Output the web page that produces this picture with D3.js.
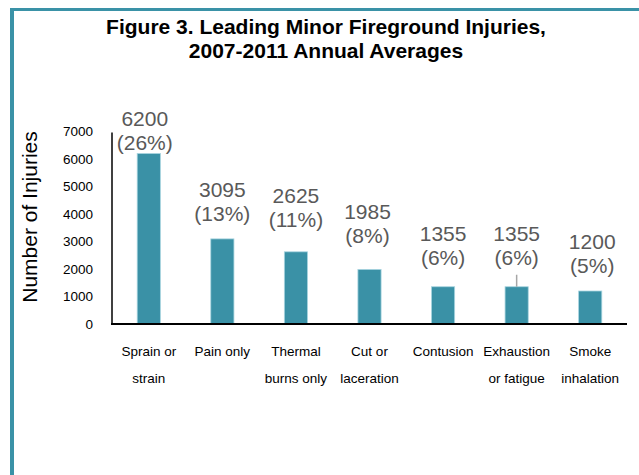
<!DOCTYPE html>
<meta charset="utf-8">
<script src="https://cdn.jsdelivr.net/npm/d3@7"></script>
<style>
body { margin: 0; background: #fff; }
text { font-family: "Liberation Sans", Arial, sans-serif; }
.title { font-weight: bold; font-size: 21px; fill: #000; }
.tick-label { font-size: 13.5px; fill: #000; }
.cat-label { font-size: 13.5px; fill: #000; }
.val-label { font-size: 21px; fill: #595959; }
</style>
<body>
<script>

// chart data
var categories = ["Sprain or|strain", "Pain only", "Thermal|burns only", "Cut or|laceration",
                  "Contusion", "Exhaustion|or fatigue", "Smoke|inhalation"];
var injuries = [6200, 3095, 2625, 1985, 1355, 1355, 1200];
var shares = ["26%", "13%", "11%", "8%", "6%", "6%", "5%"];
var yTicks = [0, 1000, 2000, 3000, 4000, 5000, 6000, 7000];

// hand placed label lifts above bar tops (px), as in the original
var labelLift = [3.5, 18, 25, 26, 22, 22, 18];
var labelShift = [-4, 0, 0, -2, 0, 0, 2];
var leaderBar = 5;

var width = 639,
    height = 475;

var svg = d3.select("body").append("svg")
    .attr("width", width)
    .attr("height", height);

// frame
svg.append("rect").attr("x", 10).attr("y", 8).attr("width", width - 10).attr("height", 3).attr("fill", "#3a92a7");
svg.append("rect").attr("x", 10).attr("y", 8).attr("width", 4).attr("height", height - 8).attr("fill", "#3a92a7");

// title
svg.append("text").attr("class", "title")
    .attr("x", 326).attr("y", 34).attr("text-anchor", "middle")
    .text("Figure 3. Leading Minor Fireground Injuries,");
svg.append("text").attr("class", "title")
    .attr("x", 326).attr("y", 58).attr("text-anchor", "middle")
    .text("2007-2011 Annual Averages");

var x = d3.scaleBand()
    .domain(d3.range(categories.length))
    .range([112, 627])
    .paddingInner(0.685)
    .paddingOuter(0.3425);

var y = d3.scaleLinear()
    .domain([0, 7000])
    .range([324, 131.5]);

// y tick labels
svg.selectAll(".tick-label")
    .data(yTicks)
    .enter().append("text")
    .attr("class", "tick-label")
    .attr("x", 93)
    .attr("y", function(d) { return y(d); })
    .attr("dy", "0.35em")
    .attr("text-anchor", "end")
    .text(function(d) { return d; });

// axis title
svg.append("text")
    .attr("transform", "translate(37,217) rotate(-90)")
    .attr("text-anchor", "middle")
    .style("font-size", "21px")
    .text("Number of Injuries");

// bars
svg.selectAll(".bar")
    .data(injuries)
    .enter().append("rect")
    .attr("class", "bar")
    .attr("x", function(d, i) { return x(i); })
    .attr("y", function(d) { return y(d); })
    .attr("width", x.bandwidth())
    .attr("height", function(d) { return y(0) - y(d); })
    .attr("fill", "#3a91a6")
    .attr("stroke", "#a9d5e0")
    .attr("stroke-width", 0.8);

// axes lines
svg.append("line").attr("x1", 112).attr("x2", 112).attr("y1", y(7000) + 1).attr("y2", y(0))
    .attr("stroke", "#000").attr("stroke-width", 1.5);
svg.append("line").attr("x1", 111).attr("x2", 627).attr("y1", y(0)).attr("y2", y(0))
    .attr("stroke", "#000").attr("stroke-width", 2);

// leader line
svg.append("line")
    .attr("x1", x(leaderBar) + x.bandwidth() / 2)
    .attr("x2", x(leaderBar) + x.bandwidth() / 2)
    .attr("y1", y(injuries[leaderBar]))
    .attr("y2", y(injuries[leaderBar]) - labelLift[leaderBar] + 10)
    .attr("stroke", "#a6a6a6").attr("stroke-width", 1.5);

// value labels
var vl = svg.selectAll(".val-label")
    .data(injuries)
    .enter().append("text")
    .attr("class", "val-label")
    .attr("text-anchor", "middle");
vl.append("tspan")
    .attr("x", function(d, i) { return x(i) + x.bandwidth() / 2 + labelShift[i]; })
    .attr("y", function(d, i) { return y(d) - labelLift[i] - 24; })
    .text(function(d) { return d; });
vl.append("tspan")
    .attr("x", function(d, i) { return x(i) + x.bandwidth() / 2 + labelShift[i]; })
    .attr("y", function(d, i) { return y(d) - labelLift[i]; })
    .text(function(d, i) { return "(" + shares[i] + ")"; });

// category labels
svg.selectAll(".cat-label")
    .data(categories)
    .enter().append("text")
    .attr("class", "cat-label")
    .attr("text-anchor", "middle")
    .each(function(d, i) {
        var t = d3.select(this);
        d.split("|").forEach(function(line, k) {
            t.append("tspan")
                .attr("x", x(i) + x.bandwidth() / 2)
                .attr("y", 356 + k * 27)
                .text(line);
        });
    });

</script>
</body>
</html>
